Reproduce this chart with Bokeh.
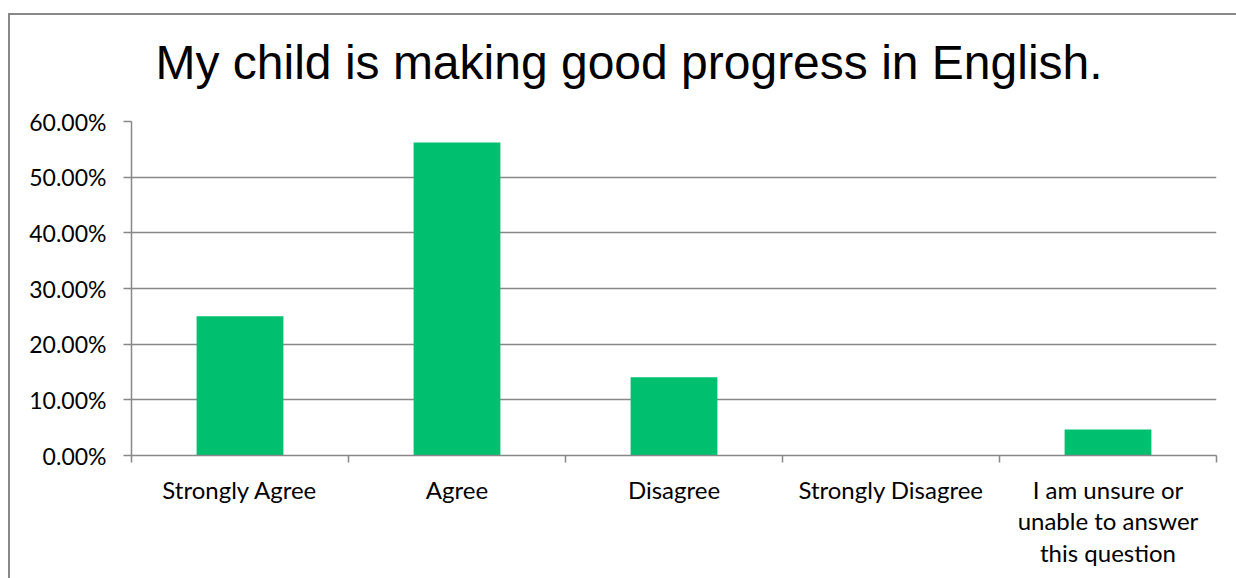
from bokeh.plotting import figure
from bokeh.models import (ColumnDataSource, FixedTicker, NumeralTickFormatter, Range1d)
from bokeh.embed import file_html
from bokeh.resources import INLINE

title_text = "My child is making good progress in English."
categories = ["Strongly Agree", "Agree", "Disagree", "Strongly Disagree",
              "I am unsure or\nunable to answer\nthis question"]
values = [0.25, 0.5625, 0.1406, 0.0, 0.0469]
y_ticks = [0.0, 0.1, 0.2, 0.3, 0.4, 0.5, 0.6]

xs = [i + 0.5 for i in range(len(categories))]
src = ColumnDataSource(dict(x=xs, top=values))

GRAY = "#888888"
LABEL_FONT = "Lato"

p = figure(width=1236, height=578, output_backend="svg", toolbar_location=None,
           x_range=Range1d(0, len(categories)), y_range=Range1d(0, 0.6),
           min_border_left=131, min_border_right=20, min_border_top=121,
           min_border_bottom=578 - 455)
# outer chart border (left and top edges) drawn as CSS background lines
line = f"linear-gradient({GRAY}, {GRAY})"
p.styles = {
    "background-color": "#ffffff",
    "background-image": f"{line}, {line}",
    "background-repeat": "no-repeat, no-repeat",
    "background-position": "8px 13px, 8px 13px",
    "background-size": "100% 2px, 2px 100%",
}
p.outline_line_color = None
p.background_fill_color = "white"
p.border_fill_color = None

p.title.text = title_text
p.title.align = "left"
p.title.offset = 24
p.title.text_font = "Liberation Sans"
p.title.text_font_size = "48px"
p.title.text_font_style = "normal"
p.title.text_color = "#000000"
p.title.vertical_align = "top"
p.title.text_baseline = "alphabetic"
p.title.standoff = 62

p.vbar(x="x", top="top", width=0.4, bottom=0, source=src,
       fill_color="#00BF6F", line_color=None)

xa = p.xaxis[0]
xa.ticker = FixedTicker(ticks=xs, minor_ticks=list(range(len(categories) + 1)))
xa.major_label_overrides = {x: c for x, c in zip(xs, categories)}
xa.major_tick_out = 0
xa.major_tick_in = 0
xa.minor_tick_out = 7
xa.minor_tick_in = 0
xa.minor_tick_line_color = GRAY
xa.minor_tick_line_width = 1.5
xa.axis_line_color = GRAY
xa.axis_line_width = 1.5
xa.major_label_standoff = 12
xa.major_label_text_font = LABEL_FONT
xa.major_label_text_font_size = "24px"
xa.major_label_text_color = "#000000"
xa.major_label_text_line_height = 1.1
xa.major_label_text_align = "center"

ya = p.yaxis[0]
ya.ticker = FixedTicker(ticks=y_ticks, minor_ticks=[])
ya.formatter = NumeralTickFormatter(format="0.00%")
ya.major_tick_out = 8
ya.major_tick_in = 0
ya.major_tick_line_color = GRAY
ya.major_tick_line_width = 1.5
ya.axis_line_color = GRAY
ya.axis_line_width = 1.5
ya.major_label_standoff = 17
ya.major_label_text_font = LABEL_FONT
ya.major_label_text_font_size = "23px"
ya.major_label_text_color = "#000000"

p.xgrid.visible = False
p.ygrid.grid_line_color = GRAY
p.ygrid.grid_line_width = 1.5

open("out.html", "w").write(file_html(p, INLINE))
